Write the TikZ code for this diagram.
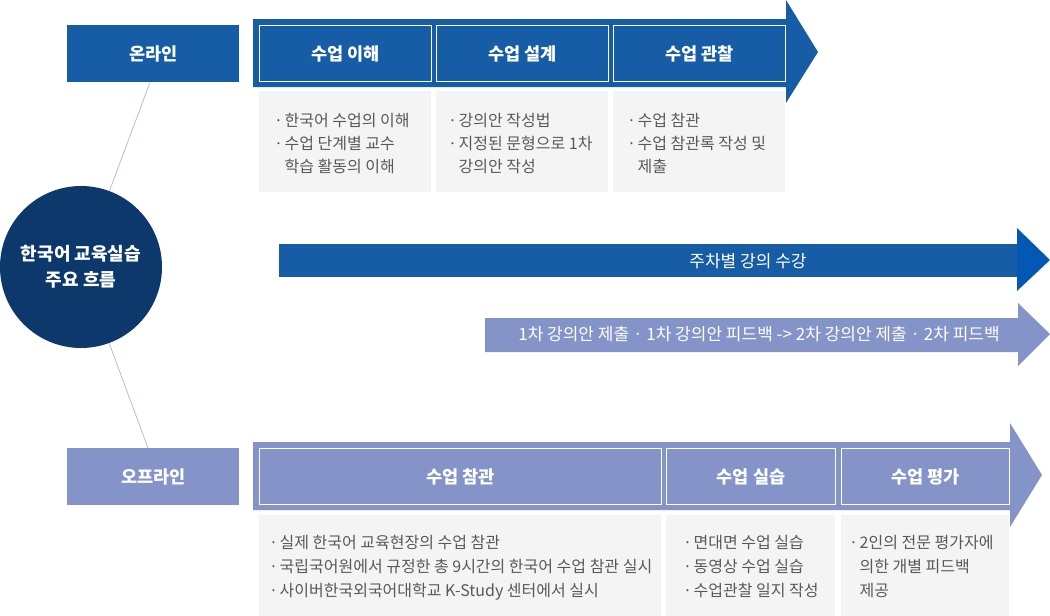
\documentclass[tikz,border=0pt]{standalone}
\usepackage{fontspec}
\setmainfont{Noto Sans CJK KR}
\definecolor{onblue}{HTML}{165DA6}
\definecolor{headblue}{HTML}{0457B2}
\definecolor{navy}{HTML}{0C386C}
\definecolor{offblue}{HTML}{8493C8}
\definecolor{graybox}{HTML}{F4F4F4}
\definecolor{graytext}{HTML}{595959}
\definecolor{linkline}{HTML}{AFC0DA}
\newcommand\bl{\makebox[10.5pt][l]{·}}
\newcommand\ind{\hspace*{10.5pt}}
\begin{document}
\begin{tikzpicture}[x=1pt,y=-1pt,
  labelbox/.style={anchor=north west,inner sep=0,minimum width=172pt,minimum height=57pt,text=white,font=\bfseries\fontsize{17.5}{20}\selectfont},
  stagebox/.style={anchor=north west,inner sep=0,minimum height=56pt,draw=white,line width=1.1pt,text=white,font=\bfseries\fontsize{17.5}{20}\selectfont},
  descbox/.style={anchor=north west,inner sep=0,fill=graybox},
  desctext/.style={anchor=north west,inner sep=0,align=left,text=graytext,font=\fontsize{16}{23}\selectfont},
  link/.style={draw=linkline,line width=0.8pt},
  bandtext/.style={text=white,font=\fontsize{17}{20}\selectfont}]
\useasboundingbox (0,0) rectangle (1050,616);

% ---------- online ----------
\fill[onblue] (253,19) -- (786,19) -- (786,0) -- (818,52) -- (786,103) -- (786,87) -- (253,87) -- cycle;
\node[labelbox,fill=onblue] (online) at (67,25) {온라인};
\node[stagebox,minimum width=172pt] (s1) at (259,25) {수업 이해};
\node[stagebox,minimum width=172pt] (s2) at (436,25) {수업 설계};
\node[stagebox,minimum width=172pt] (s3) at (613,25) {수업 관찰};
\node[descbox,minimum width=172pt,minimum height=101pt] (d1) at (259,91) {};
\node[descbox,minimum width=172pt,minimum height=101pt] (d2) at (436,91) {};
\node[descbox,minimum width=172pt,minimum height=101pt] (d3) at (613,91) {};
\node[desctext] (t1) at (274,113) {\bl 한국어 수업의 이해\\ \bl 수업 단계별 교수\\ \ind 학습 활동의 이해};
\node[desctext] (t2) at (448,113) {\bl 강의안 작성법\\ \bl 지정된 문형으로 1차\\ \ind 강의안 작성};
\node[desctext] (t3) at (627,113) {\bl 수업 참관\\ \bl 수업 참관록 작성 및\\ \ind 제출};

% ---------- middle arrows ----------
\fill[onblue] (279,244) rectangle (1018,277);
\fill[headblue] (1017,228) -- (1050,260) -- (1017,291) -- cycle;
\node[bandtext] (weekly) at (748,261) {주차별 강의 수강};
\fill[offblue] (485,318) -- (1018,318) -- (1018,303) -- (1050,334) -- (1018,366) -- (1018,352) -- (485,352) -- cycle;
\node[bandtext] (feedback) at (759,334) {1차 강의안 제출 · 1차 강의안 피드백 -> 2차 강의안 제출 · 2차 피드백};

% ---------- offline ----------
\fill[offblue] (253,442) -- (1010,442) -- (1010,423) -- (1042,475) -- (1010,527) -- (1010,510) -- (253,510) -- cycle;
\node[labelbox,fill=offblue] (offline) at (67,448) {오프라인};
\node[stagebox,minimum width=402pt] (o1) at (259,448) {수업 참관};
\node[stagebox,minimum width=169pt] (o2) at (666,448) {수업 실습};
\node[stagebox,minimum width=168pt] (o3) at (841,448) {수업 평가};
\node[descbox,minimum width=402pt,minimum height=101pt] (e1) at (259,515) {};
\node[descbox,minimum width=169pt,minimum height=101pt] (e2) at (666,515) {};
\node[descbox,minimum width=168pt,minimum height=101pt] (e3) at (841,515) {};
\node[desctext,font=\fontsize{16}{24}\selectfont] (u1) at (269,535) {\bl 실제 한국어 교육현장의 수업 참관\\ \bl 국립국어원에서 규정한 총 9시간의 한국어 수업 참관 실시\\ \bl 사이버한국외국어대학교 K-Study 센터에서 실시};
\node[desctext,font=\fontsize{16}{24}\selectfont] (u2) at (683,535) {\bl 면대면 수업 실습\\ \bl 동영상 수업 실습\\ \bl 수업관찰 일지 작성};
\node[desctext,font=\fontsize{16}{24}\selectfont] (u3) at (849,535) {\bl 2인의 전문 평가자에\\ \ind 의한 개별 피드백\\ \ind 제공};

% ---------- hub ----------
\node[circle,fill=navy,minimum size=162pt,inner sep=0,align=center,text=white,font=\bfseries\fontsize{18}{26}\selectfont] (hub) at (81,267) {한국어 교육실습\\주요 흐름};
\draw[link] (hub) -- (online.south -| 150,0);
\draw[link] (hub) -- (offline.north -| 148,0);
\end{tikzpicture}
\end{document}
